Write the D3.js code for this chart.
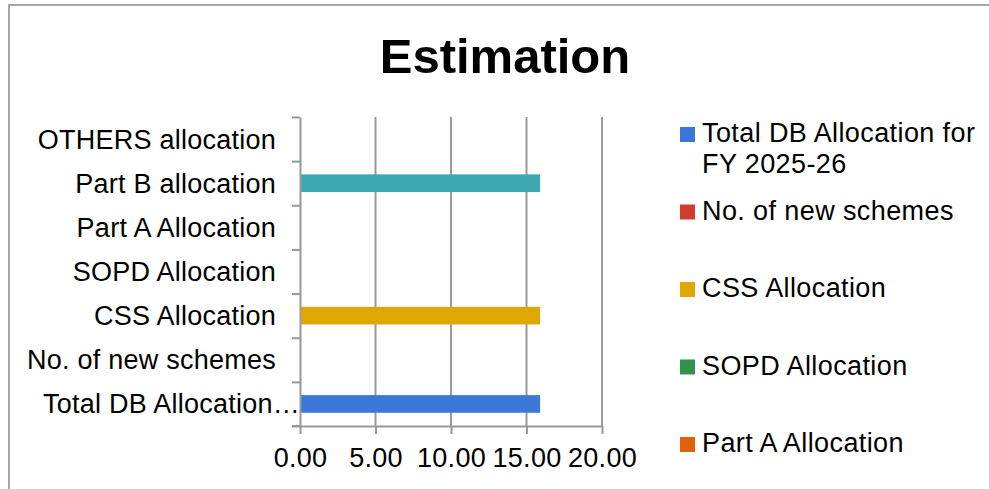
<!DOCTYPE html>
<html><head><meta charset="utf-8">
<script src="https://cdn.jsdelivr.net/npm/d3@7/dist/d3.min.js"></script>
<style>html,body{margin:0;padding:0;background:#fff;overflow:hidden}</style>
</head><body>
<script>
const title = "Estimation";
const categories = ["Total DB Allocation for FY 2025-26","No. of new schemes","CSS Allocation","SOPD Allocation","Part A Allocation","Part B allocation","OTHERS allocation"];
const values = [15.9, 0, 15.9, 0, 0, 15.9, 0];
const seriesNames = ["Total DB Allocation for FY 2025-26","No. of new schemes","CSS Allocation","SOPD Allocation","Part A Allocation","Part B allocation","OTHERS allocation"];
const seriesColors = ["#3b77d9","#d13c30","#dfa800","#2e934b","#e1610b","#3ea8b1","#7baaf7"];
const xTicks = [0, 5, 10, 15, 20];

const W = 989, H = 489;
const FONT = "'Liberation Sans', Arial, sans-serif";
const GRAY = "#999999";
const svg = d3.select("body").append("svg").attr("width", W).attr("height", H)
  .style("font-family", FONT);

// chart border (extends beyond the visible area)
svg.append("rect").attr("x", 9).attr("y", 5).attr("width", 1100).attr("height", 600)
  .attr("fill", "#fff").attr("stroke", "#a6a6a6").attr("stroke-width", 2);

// title
svg.append("text").attr("x", 505).attr("y", 73).attr("text-anchor", "middle")
  .attr("font-size", 49).attr("font-weight", "bold").attr("fill", "#000").text(title);

const plot = {left: 300, right: 602, top: 117, bottom: 426};
const x = d3.scaleLinear().domain([0, 20]).range([plot.left, plot.right]);
const y = d3.scaleBand().domain(categories).range([plot.bottom, plot.top]).padding(0);
const yIdx = d3.scaleLinear().domain([0, categories.length]).range([plot.bottom, plot.top]);

// vertical gridlines
svg.append("g").selectAll("line").data(xTicks.slice(1)).join("line")
  .attr("x1", d => x(d)).attr("x2", d => x(d))
  .attr("y1", plot.top).attr("y2", plot.bottom)
  .attr("stroke", GRAY).attr("stroke-width", 2);

// bars
const bh = y.bandwidth() * 0.4;
svg.append("g").selectAll("rect").data(categories).join("rect")
  .attr("x", x(0))
  .attr("y", d => y(d) + (y.bandwidth() - bh) / 2)
  .attr("width", (d, i) => x(values[i]) - x(0))
  .attr("height", bh)
  .attr("fill", (d, i) => seriesColors[i]);

// bottom axis
const xAxis = svg.append("g").attr("transform", `translate(0,${plot.bottom})`)
  .call(d3.axisBottom(x).tickValues(xTicks).tickFormat(d3.format(".2f")).tickSize(8).tickSizeOuter(0).tickPadding(14));
xAxis.select(".domain").attr("stroke", GRAY).attr("stroke-width", 2);
xAxis.selectAll(".tick line").attr("stroke", GRAY).attr("stroke-width", 2);
xAxis.selectAll("text").attr("font-size", 27).attr("font-family", FONT).attr("fill", "#000")
  .attr("letter-spacing", "0.3px");

// left axis (ticks at category boundaries)
const yAxis = svg.append("g").attr("transform", `translate(${plot.left},0)`)
  .call(d3.axisLeft(yIdx).tickValues(d3.range(categories.length + 1)).tickFormat("").tickSize(8).tickSizeOuter(0));
yAxis.select(".domain").attr("stroke", GRAY).attr("stroke-width", 2);
yAxis.selectAll(".tick line").attr("stroke", GRAY).attr("stroke-width", 2);
svg.append("line").attr("x1", plot.left - 8).attr("x2", plot.left).attr("y1", plot.bottom).attr("y2", plot.bottom)
  .attr("stroke", GRAY).attr("stroke-width", 2);

// category labels
const labelRight = 276, labelMin = 14;
const lab = svg.append("g").selectAll("text").data(categories).join("text")
  .attr("x", labelRight).attr("y", d => y(d) + y.bandwidth() / 2)
  .attr("dy", "0.35em").attr("text-anchor", "end")
  .attr("font-size", 27).attr("letter-spacing", "0.25px").attr("fill", "#000").text(d => d);
lab.each(function(d) {
  const t = d3.select(this);
  if (this.getComputedTextLength() > labelRight - labelMin) {
    let words = d.split(" ");
    let s = d;
    t.attr("x", plot.left);
    while (words.length > 1) {
      words.pop();
      s = words.join(" ") + "\u2026";
      t.text(s);
      if (this.getComputedTextLength() <= plot.left - labelMin) break;
    }
  }
});

// legend (only entries that fall inside the visible chart area)
const legX = 680, legTop = 127, legStep = 77.5, sq = 15, maxW = 282, lineH = 31;
const leg = svg.append("g");
seriesNames.forEach((name, i) => {
  const top = legTop + i * legStep;
  if (top + sq > H) return;
  leg.append("rect").attr("x", legX).attr("y", top).attr("width", sq).attr("height", sq)
    .attr("fill", seriesColors[i]);
  const t = leg.append("text").attr("x", legX + 22).attr("y", top + sq)
    .attr("font-size", 27).attr("letter-spacing", "0.4px").attr("fill", "#000");
  const words = name.split(" ");
  let line = [];
  let tsp = t.append("tspan").attr("x", legX + 22).attr("dy", 0);
  words.forEach(w => {
    line.push(w);
    tsp.text(line.join(" "));
    if (tsp.node().getComputedTextLength() > maxW && line.length > 1) {
      line.pop();
      tsp.text(line.join(" "));
      line = [w];
      tsp = t.append("tspan").attr("x", legX + 22).attr("dy", lineH).text(w);
    }
  });
});
</script>
</body></html>
